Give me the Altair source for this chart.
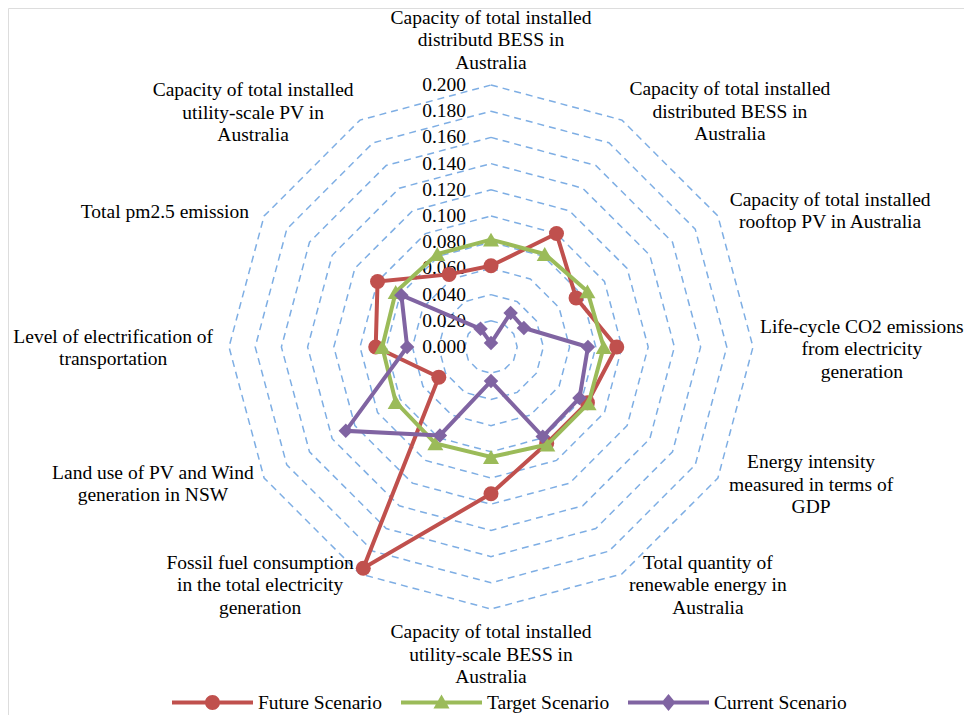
import altair as alt
import pandas as pd

# ---------------- data ----------------
axis_labels = [
    "Capacity of total installed\ndistributd BESS in\nAustralia",
    "Capacity of total installed\ndistributed BESS in\nAustralia",
    "Capacity of total installed\nrooftop PV in Australia",
    "Life-cycle CO2 emissions\nfrom electricity\ngeneration",
    "Energy intensity\nmeasured in terms of\nGDP",
    "Total quantity of\nrenewable energy in\nAustralia",
    "Capacity of total installed\nutility-scale BESS in\nAustralia",
    "Fossil fuel consumption\nin the total electricity\ngeneration",
    "Land use of PV and Wind\ngeneration in NSW",
    "Level of electrification of\ntransportation",
    "Total pm2.5 emission",
    "Capacity of total installed\nutility-scale PV in\nAustralia",
]
series_names = ["Future Scenario", "Target Scenario", "Current Scenario"]
future = [0.062, 0.100, 0.075, 0.096, 0.085, 0.085, 0.112, 0.195, 0.046, 0.088, 0.100, 0.064]
target = [0.082, 0.082, 0.085, 0.086, 0.086, 0.086, 0.084, 0.085, 0.084, 0.083, 0.084, 0.082]
current = [0.003, 0.030, 0.029, 0.074, 0.078, 0.079, 0.026, 0.078, 0.128, 0.064, 0.079, 0.016]
tick_values = [0.000, 0.020, 0.040, 0.060, 0.080, 0.100, 0.120, 0.140, 0.160, 0.180, 0.200]

# ---------------- styling / layout ----------------
colors = ["#C0504D", "#9BBB59", "#8064A2"]
marker_shapes = ["circle", "triangle-up", "diamond"]
marker_sizes = [225, 256, 210]
legend_paths = [
    "M-1,-0.05L1,-0.05L1,0.05L-1,0.05Z M0.185,0A0.185,0.185 0 1,1 -0.185,0A0.185,0.185 0 1,1 0.185,0Z",
    "M-1,-0.05L1,-0.05L1,0.05L-1,0.05Z M0,-0.2L0.198,0.146L-0.198,0.146Z",
    "M-1,-0.05L1,-0.05L1,0.05L-1,0.05Z M0,-0.21L0.173,0L0,0.21L-0.173,0Z",
]
# pixel offsets of each label block's centre from its anchor on the axis
label_dx = [0, 102, 102, 97, 83, 80, 0, -94, -101, -104, -89, -101]
label_dy = [-33, 2, 1, 2, 1, 1, 34, 1, 0, 1, 2, 3]
LINE_H = 22.5
FONT = "Liberation Serif"
FS = 19.5
N = len(axis_labels)
W, H = 956, 707
CX, CY, PXU = 483, 339, 1310
LABEL_R = 0.209

# ---------------- tables ----------------
rows = []
for name, vals in zip(series_names, [future, target, current]):
    for k in range(N + 1):
        rows.append({"series": name, "k": k, "v": vals[k % N]})
series_df = pd.DataFrame(rows)

grid_df = pd.DataFrame(
    [{"lvl": lv, "k": k, "v": lv} for lv in tick_values[1:] for k in range(N + 1)]
)
label_df = pd.DataFrame([{"k": k, "label": t, "v": LABEL_R} for k, t in enumerate(axis_labels)])
tick_df = pd.DataFrame({"v": tick_values})

XD = [-CX / PXU, (W - CX) / PXU]
YD = [-(H - CY) / PXU, CY / PXU]


def polar(chart):
    return chart.transform_calculate(
        px="datum.v * sin(datum.k * PI / 6)",
        py="datum.v * cos(datum.k * PI / 6)",
    )


X = alt.X("px:Q", scale=alt.Scale(domain=XD), axis=None)
Y = alt.Y("py:Q", scale=alt.Scale(domain=YD), axis=None)

grid = polar(alt.Chart(grid_df)).mark_line(
    strokeDash=[7, 5], strokeWidth=1.5, color="#7EAEE4"
).encode(x=X, y=Y, detail="lvl:N", order="k:Q")

ticks = alt.Chart(tick_df).transform_calculate(px="0", py="datum.v").mark_text(
    align="right", baseline="middle", dx=-25, font=FONT, fontSize=FS, color="black"
).encode(x=X, y=Y, text=alt.Text("v:Q", format=".3f"))

layers = [grid, ticks]
for name, col, shp, sz in zip(series_names, colors, marker_shapes, marker_sizes):
    base = polar(alt.Chart(series_df)).transform_filter(alt.datum.series == name)
    layers.append(
        base.mark_line(color=col, strokeWidth=4).encode(x=X, y=Y, order="k:Q")
    )
    layers.append(
        base.transform_filter("datum.k < 12").mark_point(
            shape=shp, size=sz, filled=True, color=col, opacity=1
        ).encode(x=X, y=Y)
    )

for k, text in enumerate(axis_labels):
    n_lines = text.count("\n") + 1
    layers.append(
        polar(alt.Chart(label_df)).transform_filter(alt.datum.k == k).mark_text(
            align="center", baseline="middle", lineBreak="\n", font=FONT, fontSize=FS,
            lineHeight=LINE_H, color="black",
            dx=label_dx[k], dy=label_dy[k] - (n_lines - 1) * LINE_H / 2,
        ).encode(x=X, y=Y, text="label:N")
    )

leg = dict(
    title=None, orient="none", legendX=164, legendY=654, direction="horizontal",
    symbolSize=6561, symbolStrokeWidth=0, symbolOpacity=1,
    labelFont=FONT, labelFontSize=FS, labelColor="black", labelOffset=5,
    columnPadding=18, labelLimit=300,
)
legend_layer = polar(alt.Chart(series_df)).transform_filter("datum.k == 0").mark_point(
    filled=True, opacity=0
).encode(
    x=X, y=Y,
    color=alt.Color("series:N", scale=alt.Scale(domain=series_names, range=colors),
                    legend=alt.Legend(**leg)),
    shape=alt.Shape("series:N", scale=alt.Scale(domain=series_names, range=legend_paths),
                    legend=alt.Legend(**leg)),
)
layers.append(legend_layer)

chart = alt.layer(*layers).properties(
    width=W, height=H, padding=0, autosize=alt.AutoSizeParams(type="none")
).configure_view(stroke=None).configure(font=FONT)

chart.save("out.html", embed_options={"renderer": "svg", "actions": False})
